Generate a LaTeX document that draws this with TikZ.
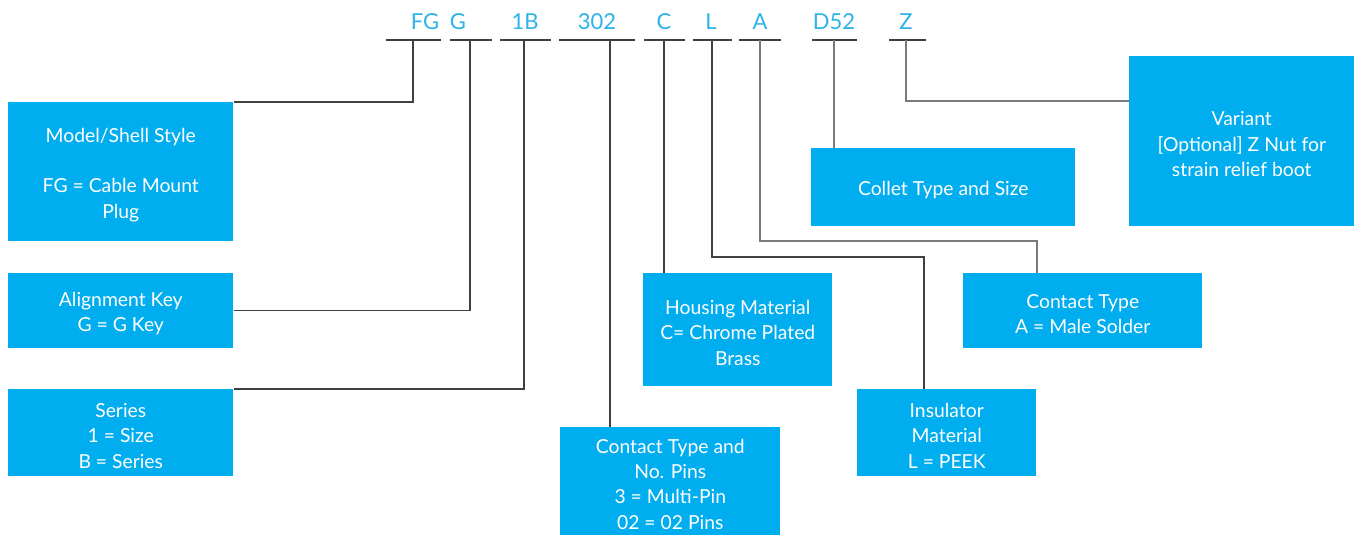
\documentclass[tikz,border=0pt]{standalone}
\usepackage{fontspec}
\setmainfont{Lato}
\definecolor{boxblue}{HTML}{00ADEF}
\definecolor{codeblue}{HTML}{2CB4E8}
\definecolor{lineA}{HTML}{404040}
\definecolor{lineB}{HTML}{7A7A7A}
\newcommand\lowr{\rule{0pt}{15pt}}
\begin{document}
\begin{tikzpicture}[x=0.75pt,y=-0.75pt,
  box/.style={fill=boxblue,draw=none,anchor=north west,inner sep=0pt,align=center,
    text=white,font=\fontsize{14.5}{19}\selectfont},
  code/.style={text=codeblue,font=\fontsize{16.5}{19}\selectfont,inner sep=0pt,anchor=base},
  uline/.style={draw=lineA,line width=0.8pt},
  conn/.style={draw=lineA,line width=0.8pt},
  connB/.style={draw=lineB,line width=0.9pt}]
\useasboundingbox[fill=white] (0,0) rectangle (1360,535);

% code letters
\node[code] (cFG) at (425,30) {FG};
\node[code] (cG) at (458,30) {G};
\node[code] (cB) at (525,30) {1B};
\node[code] (c302) at (597,30) {302};
\node[code] (cC) at (664,30) {C};
\node[code] (cL) at (711,30) {L};
\node[code] (cA) at (760,30) {A};
\node[code] (cD) at (834,30) {D52};
\node[code] (cZ) at (906,30) {Z};

% underlines
\draw[uline] (386,40) -- (441,40);
\draw[uline] (450,40) -- (492,40);
\draw[uline] (500,40) -- (551,40);
\draw[uline] (559,40) -- (635,40);
\draw[uline] (644,40) -- (685,40);
\draw[uline] (693,40) -- (732,40);
\draw[uline] (739,40) -- (781,40);
\draw[uline] (812,40) -- (857,40);
\draw[uline] (889,40) -- (926,40);

\coordinate (tFG) at (413,40);
\coordinate (tG) at (470,40);
\coordinate (tB) at (524,40);
\coordinate (t302) at (610,40);
\coordinate (tC) at (664,40);
\coordinate (tL) at (712,40);
\coordinate (tA) at (760,40);
\coordinate (tD) at (834,40);
\coordinate (tZ) at (906,40);

% boxes
\node[box,minimum width=168.75pt,minimum height=104.25pt] (ms) at (8,102)
  {\lowr Model/Shell Style\\[19pt]FG = Cable Mount\\Plug};
\node[box,minimum width=168.75pt,minimum height=56.25pt] (ak) at (8,273)
  {\lowr Alignment Key\\G = G Key};
\node[box,minimum width=168.75pt,minimum height=65.25pt] (se) at (8,389)
  {\lowr Series\\1 = Size\\B = Series};
\node[box,minimum width=165pt,minimum height=81pt] (cp) at (560,427)
  {\lowr Contact Type and\\No. Pins\\3 = Multi-Pin\\02 = 02 Pins};
\node[box,minimum width=141.75pt,minimum height=84.75pt] (hm) at (643,273)
  {\lowr Housing Material\\C= Chrome Plated\\Brass};
\node[box,minimum width=134.25pt,minimum height=65.25pt] (im) at (857,389)
  {\lowr Insulator\\Material\\L = PEEK};
\node[box,minimum width=179.25pt,minimum height=56.25pt] (ct) at (963,273)
  {\lowr Contact Type\\A = Male Solder};
\node[box,minimum width=198pt,minimum height=58.5pt] (co) at (811,148)
  {\lowr Collet Type and Size};
\node[box,minimum width=168.75pt,minimum height=127.5pt] (va) at (1129,56)
  {\lowr Variant\\{[Optional]} Z Nut for\\strain relief boot};

\coordinate (iL) at (924,389);
\coordinate (iA) at (1037,273);

% connectors
\draw[conn] (tFG) |- (ms.north east);
\draw[conn] (tG) |- (ak.east);
\draw[conn] (tB) |- (se.north east);
\draw[conn] (t302) -- (t302 |- cp.north);
\draw[conn] (tC) -- (tC |- hm.north);
\draw[conn] (tL) -- (tL |- 0,257) -| (iL);
\draw[connB] (tA) -- (tA |- 0,241) -| (iA);
\draw[connB] (tD) -- (tD |- co.north);
\draw[connB] (tZ) -- (tZ |- 0,101) -- (va.west |- 0,101);
\end{tikzpicture}
\end{document}
